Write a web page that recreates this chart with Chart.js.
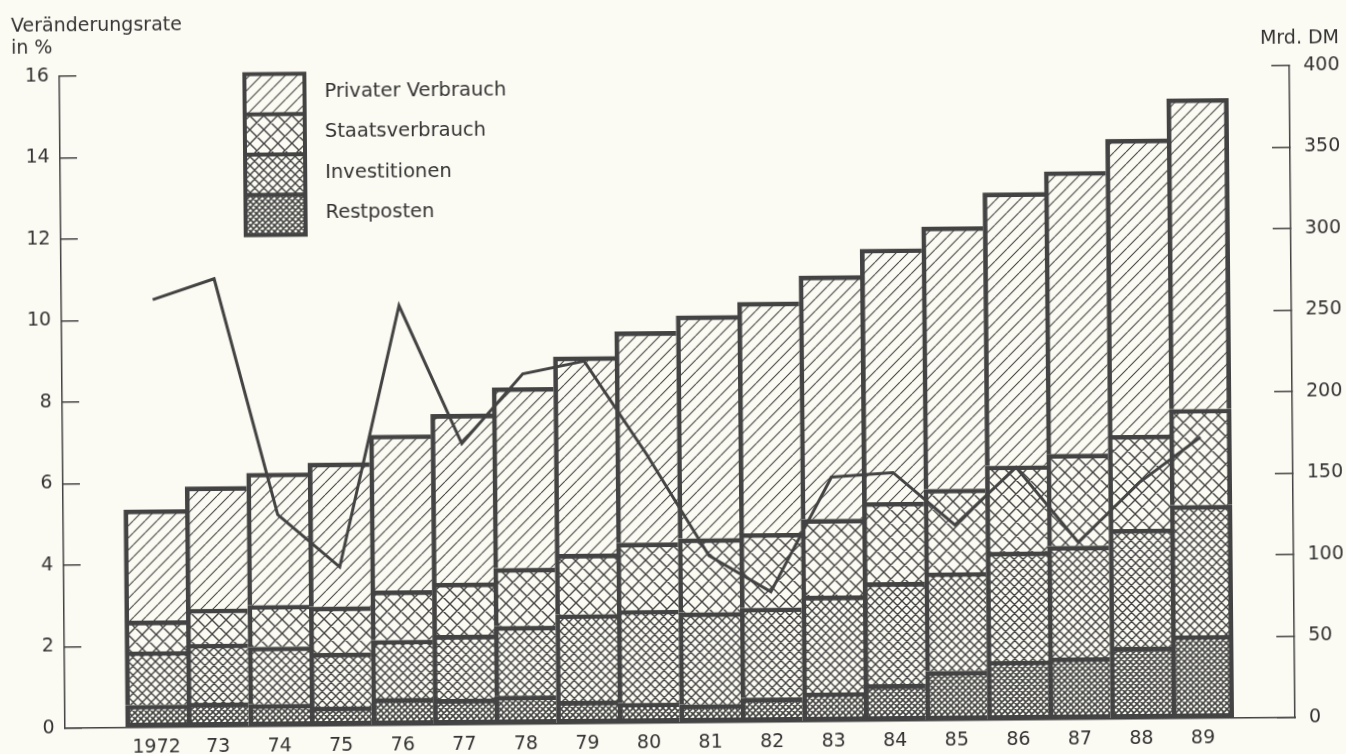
<!DOCTYPE html>
<html lang="de">
<head>
<meta charset="utf-8">
<title>Verwendung des Sozialprodukts 1972–89</title>
<script src="https://cdn.jsdelivr.net/npm/chart.js@4.4.1/dist/chart.umd.min.js"></script>
<style>
    html, body { margin: 0; padding: 0; background: #fcfbf3; overflow: hidden; }
    /* die Vorlage ist leicht schräg eingescannt */
    #diagramm { display: block; transform: rotate(-0.5deg); transform-origin: 673px 377px; }
</style>
</head>
<body>
<canvas id="diagramm" width="1346" height="754"></canvas>
<script>
/* ─── Daten ─────────────────────────────────────────────────────── */
const JAHRE = ['1972', '73', '74', '75', '76', '77', '78', '79', '80',
               '81', '82', '83', '84', '85', '86', '87', '88', '89'];

// Mrd. DM (rechte Achse), von unten nach oben gestapelt
const RESTPOSTEN         = [13.8, 14.8, 13.6, 11.7, 16.6, 15.7, 17.4, 13.9, 12.4, 11.2, 15.0, 17.8, 22.5, 30.3, 36.2, 37.9, 44.1, 50.9];
const INVESTITIONEN      = [32.8, 36.1, 35.2, 33.0, 35.7, 39.3, 42.8, 53.1, 56.9, 56.4, 55.1, 59.3, 62.5, 60.5, 66.9, 68.5, 72.3, 79.9];
const STAATSVERBRAUCH    = [18.8, 21.5, 25.6, 28.4, 30.3, 32.0, 35.6, 37.1, 41.4, 45.4, 45.7, 47.1, 49.2, 51.2, 52.9, 56.4, 57.7, 58.9];
const PRIVATER_VERBRAUCH = [68.2, 75.1, 81.1, 88.3, 95.6, 103.6, 110.8, 121.1, 129.6, 136.8, 141.9, 149.3, 155.5, 160.9, 167.5, 173.4, 181.7, 190.5];

// Veränderungsrate in % (linke Achse)
const VERAENDERUNG = [10.5, 11.0, 5.2, 3.9, 10.3, 6.9, 8.6, 8.9, 6.6, 4.1, 3.2, 6.0, 6.1, 4.8, 6.2, 4.35, 5.8, 6.9];

const TICKS_PROZENT = [0, 2, 4, 6, 8, 10, 12, 14, 16];
const TICKS_MRD     = [0, 50, 100, 150, 200, 250, 300, 350, 400];

/* ─── Farben & Schraffuren ──────────────────────────────────────── */
const TINTE = '#434343';
const TEXT  = '#333333';

function schraffur(abstand, richtungen, breite) {
    const c = document.createElement('canvas');
    c.width = c.height = abstand;
    const g = c.getContext('2d');
    g.strokeStyle = TINTE;
    g.lineWidth = breite;
    g.beginPath();
    for (let k = -1; k <= 1; k++) {
        if (richtungen.includes('/')) {
            g.moveTo(k * abstand, abstand);
            g.lineTo(k * abstand + abstand, 0);
        }
        if (richtungen.includes('\\')) {
            g.moveTo(k * abstand, 0);
            g.lineTo(k * abstand + abstand, abstand);
        }
    }
    g.stroke();
    return document.getElementById('diagramm').getContext('2d').createPattern(c, 'repeat');
}

const MUSTER_PRIVAT = schraffur(12, '/', 1.1);
const MUSTER_STAAT  = schraffur(14, '/\\', 1.4);
const MUSTER_INVEST = schraffur(9, '/\\', 1.4);
const MUSTER_REST   = schraffur(6, '/\\', 1.6);

const punkte = werte => werte.map((v, i) => ({ x: i, y: v }));

function balken(label, werte, muster, unten) {
    return {
        type: 'bar',
        label,
        data: punkte(werte),
        yAxisID: 'mrd',
        order: 1,
        backgroundColor: muster,
        borderColor: TINTE,
        borderSkipped: false,
        borderWidth: ctx => ({
            top: 4,
            left: 4,
            right: ctx.dataIndex === JAHRE.length - 1 ? 4 : 0,
            bottom: unten ? 4 : 0,
        }),
        categoryPercentage: 1,
        barPercentage: 1,
    };
}

// Achsenbreiten fest, ohne automatischen Rand für die Beschriftung
function festeBreite(breite) {
    return s => {
        s.width = breite;
        s.paddingTop = 0;
        s.paddingBottom = 0;
    };
}

/* ─── Achsentitel und Legende ───────────────────────────────────── */
const beschriftung = {
    id: 'beschriftung',
    afterDraw(chart) {
        const ctx = chart.ctx;
        ctx.save();
        ctx.fillStyle = TEXT;
        ctx.font = '19px "DejaVu Sans"';
        ctx.textAlign = 'left';
        ctx.textBaseline = 'alphabetic';
        ctx.fillText('Veränderungsrate', 14, 26);
        ctx.fillText('in %', 14, 48);
        ctx.textAlign = 'right';
        ctx.fillText('Mrd. DM', 1342, 48.5);

        // Legende: oberster Stapelteil zuerst
        const eintraege = chart.data.datasets.filter(d => d.type === 'bar').slice().reverse();
        const x = 247, y = 70.5, b = 60, h = 161 / eintraege.length;
        eintraege.forEach((d, i) => {
            ctx.fillStyle = d.backgroundColor;
            ctx.fillRect(x, y + i * h, b, h);
        });
        ctx.strokeStyle = TINTE;
        ctx.lineWidth = 4;
        ctx.strokeRect(x, y, b, h * eintraege.length);
        ctx.beginPath();
        for (let i = 1; i < eintraege.length; i++) {
            ctx.moveTo(x, y + i * h);
            ctx.lineTo(x + b, y + i * h);
        }
        ctx.stroke();

        ctx.fillStyle = TEXT;
        ctx.font = '19.5px "DejaVu Sans"';
        ctx.textAlign = 'left';
        ctx.textBaseline = 'middle';
        eintraege.forEach((d, i) => ctx.fillText(d.label, 327, y + i * h + h / 2 - 1.5));
        ctx.restore();
    },
};

/* ─── Diagramm ──────────────────────────────────────────────────── */
Chart.defaults.font.family = '"DejaVu Sans"';
Chart.defaults.font.size = 19;
Chart.defaults.color = TEXT;

new Chart(document.getElementById('diagramm'), {
    data: {
        datasets: [
            {
                type: 'line',
                label: 'Veränderungsrate',
                data: punkte(VERAENDERUNG),
                yAxisID: 'prozent',
                order: 0,
                borderColor: TINTE,
                borderWidth: 3,
                borderJoinStyle: 'miter',
                pointRadius: 0,
                tension: 0,
                fill: false,
            },
            balken('Restposten', RESTPOSTEN, MUSTER_REST, true),
            balken('Investitionen', INVESTITIONEN, MUSTER_INVEST, false),
            balken('Staatsverbrauch', STAATSVERBRAUCH, MUSTER_STAAT, false),
            balken('Privater Verbrauch', PRIVATER_VERBRAUCH, MUSTER_PRIVAT, false),
        ],
    },
    options: {
        responsive: false,
        devicePixelRatio: 1,
        animation: false,
        events: [],
        layout: { padding: { top: 71, left: 0, right: 0, bottom: 0 } },
        plugins: { legend: { display: false }, tooltip: { enabled: false } },
        scales: {
            x: {
                type: 'linear',
                stacked: true,
                offset: false,
                min: -1.485,
                max: 18.496,
                afterBuildTicks: s => { s.ticks = JAHRE.map((_, i) => ({ value: i })); },
                afterFit: s => { s.height = 31; s.paddingLeft = 0; s.paddingRight = 0; },
                ticks: {
                    autoSkip: false,
                    maxRotation: 0,
                    padding: 9,
                    callback: (v, i) => JAHRE[i],
                },
                grid: { offset: false, drawOnChartArea: false, drawTicks: false },
                border: { display: true, color: TINTE, width: 1.5 },
            },
            prozent: {
                type: 'linear',
                position: 'left',
                min: 0,
                max: 16,
                afterBuildTicks: s => { s.ticks = TICKS_PROZENT.map(v => ({ value: v })); },
                afterFit: festeBreite(62),
                ticks: { padding: 27.4 },
                grid: { drawOnChartArea: false, tickLength: -17, color: TINTE, lineWidth: 1.5 },
                border: { display: true, color: TINTE, width: 1.5 },
            },
            mrd: {
                type: 'linear',
                position: 'right',
                stacked: true,
                min: 0,
                max: 400,
                afterBuildTicks: s => { s.ticks = TICKS_MRD.map(v => ({ value: v })); },
                afterFit: festeBreite(54),
                ticks: { padding: 32 },
                grid: { drawOnChartArea: false, tickLength: -18, color: TINTE, lineWidth: 1.5 },
                border: { display: true, color: TINTE, width: 1.5 },
            },
        },
    },
    plugins: [beschriftung],
});
</script>
</body>
</html>
